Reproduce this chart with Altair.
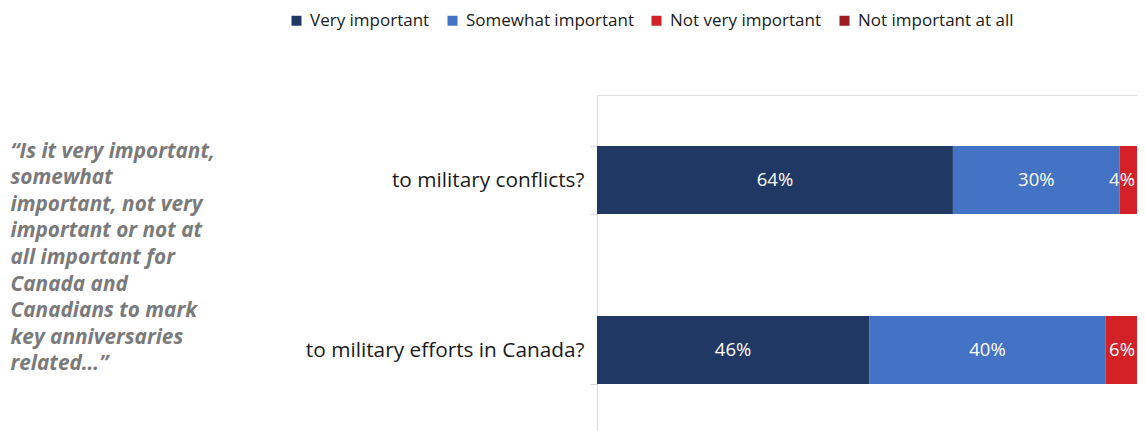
import altair as alt
import pandas as pd

questions = ["to military conflicts?", "to military efforts in Canada?"]
responses = ["Very important", "Somewhat important", "Not very important", "Not important at all"]
very_important = [64, 46]
somewhat_important = [30, 40]
not_very_important = [4, 6]
not_at_all = [2, 2]
colors = ["#203864", "#4472C4", "#D42027", "#9E1B22"]

side_text = [
    "\u201cIs it very important,",
    "somewhat",
    "important, not very",
    "important or not at",
    "all important for",
    "Canada and",
    "Canadians to mark",
    "key anniversaries",
    "related\u2026\u201d",
]

series = [very_important, somewhat_important, not_very_important, not_at_all]
rows = []
for qi, q in enumerate(questions):
    for ri, r in enumerate(responses):
        rows.append({"question": q, "response": r, "value": series[ri][qi], "order": ri})
df = pd.DataFrame(rows)

FONT = "Open Sans"
XMAX = 0.971

base = alt.Chart(df).transform_joinaggregate(
    total="sum(value)", groupby=["question"]
).transform_calculate(
    frac="datum.value / datum.total"
).transform_stack(
    stack="frac", groupby=["question"], as_=["x0", "x1"],
    sort=[alt.SortField("order", order="ascending")]
).transform_calculate(
    mid="min((datum.x0 + datum.x1) / 2, 0.944)",
    label="datum.value + '%'"
)

xscale = alt.Scale(domain=[0, XMAX], nice=False, zero=True)
yscale = alt.Scale(domain=questions, paddingInner=0.6, paddingOuter=0.3)

bars = base.mark_bar(clip=True).encode(
    y=alt.Y("question:N", scale=yscale, sort=questions,
            axis=alt.Axis(
                title=side_text, titleAngle=0, titleAlign="left", titleBaseline="alphabetic",
                titleX=-587, titleY=62, titleFont=FONT, titleFontSize=20.8,
                titleFontStyle="italic", titleFontWeight="bold", titleColor="#7a7a7a",
                titleLineHeight=26.6,
                labelFont=FONT, labelFontSize=20.8, labelColor="#1a1a1a", labelPadding=6,
                domainColor="#d9d9d9", tickColor="#d9d9d9", tickSize=7, tickBand="extent",
                labelLimit=400,
            )),
    x=alt.X("x0:Q", scale=xscale, axis=None),
    x2="x1:Q",
    color=alt.Color("response:N", sort=responses,
                    scale=alt.Scale(domain=responses, range=colors),
                    legend=alt.Legend(
                        title=None, orient="none", direction="horizontal",
                        legendX=-309, legendY=-83,
                        symbolType="square", symbolSize=100, symbolStrokeWidth=0,
                        labelFont=FONT, labelFontSize=17, labelColor="#1a1a1a",
                        columnPadding=14, labelOffset=5, labelLimit=300,
                    )),
)

texts = base.transform_filter("datum.order < 3").mark_text(
    color="white", font=FONT, fontSize=18.5, baseline="middle", align="center"
).encode(
    y=alt.Y("question:N", scale=yscale, sort=questions),
    x=alt.X("mid:Q", scale=xscale),
    text="label:N",
)

chart = (bars + texts).properties(
    width=540, height=340,
    autosize=alt.AutoSizeParams(type="none"),
    padding={"left": 589, "top": 87, "right": 0, "bottom": 0},
).configure_view(stroke=None).configure(background="white")

chart.save("out.html", embed_options={"renderer": "svg", "actions": False})
